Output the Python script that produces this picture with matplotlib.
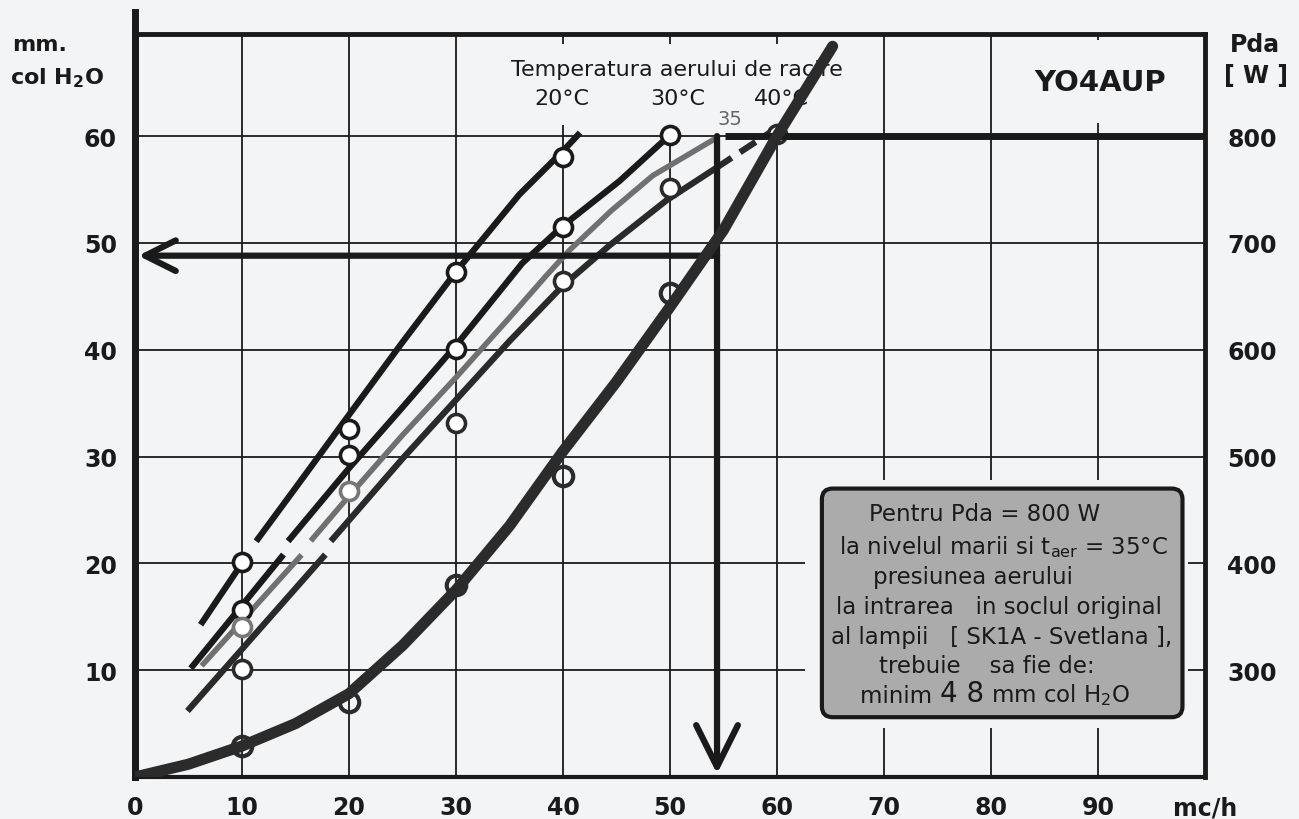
# pressure / power chart for the SK1A socket, YO4AUP
import matplotlib.pyplot as plt
from matplotlib.patches import FancyBboxPatch, Rectangle

plt.rcParams['font.family'] = ['DejaVu Sans']

# axes
FLOW_MAX = 100
PRESS_MAX = 69.55
PDA_AT_ZERO = 200      # right axis: Pda = 200 + 10 * mm col H2O
PDA_PER_MM = 10

FLOW_TICKS = [0, 10, 20, 30, 40, 50, 60, 70, 80, 90, 100]
FLOW_LABELS = ['0', '10', '20', '30', '40', '50', '60', '70', '80', '90', 'mc/h']
PRESS_TICKS = [10, 20, 30, 40, 50, 60]
PDA_TICKS = [300, 400, 500, 600, 700, 800]

# pressure curves (mm col H2O) per cooling air temperature, lower / upper pieces
T20_LOW_X = [6.3, 10.4]
T20_LOW_Y = [14.5, 20.6]
T20_UP_X = [11.5, 15.4, 20, 25, 30, 35.9, 40, 41.4]
T20_UP_Y = [22.3, 27.6, 33.9, 40.7, 47.3, 54.5, 58.6, 60.1]
T20_PTS_X = [10, 20, 30, 40]
T20_PTS_Y = [20.1, 32.6, 47.3, 58.0]

T30_LOW_X = [5.4, 13.7]
T30_LOW_Y = [10.4, 20.6]
T30_UP_X = [14.5, 20, 25, 30, 36.2, 40, 45.3, 50]
T30_UP_Y = [22.3, 28.9, 34.6, 40.4, 48.1, 51.6, 55.8, 60.1]
T30_PTS_X = [10, 20, 30, 40, 50]
T30_PTS_Y = [15.6, 30.1, 40.1, 51.5, 60.1]

T35_LOW_X = [6.4, 15.4]
T35_LOW_Y = [10.6, 20.6]
T35_UP_X = [16.6, 20, 25, 30, 35, 38.5, 40.6, 44.5, 48.4, 54.3]
T35_UP_Y = [22.3, 26.3, 32.0, 37.4, 43.0, 47.0, 49.3, 53.0, 56.3, 59.8]
T35_PTS_X = [10, 20]
T35_PTS_Y = [14.0, 26.8]

T40_LOW_X = [5.1, 17.6]
T40_LOW_Y = [6.4, 20.6]
T40_UP_X = [18.5, 25, 30, 35, 40, 44.4, 49.7, 54.3]
T40_UP_Y = [22.3, 29.8, 35.3, 40.8, 46.0, 49.8, 54.0, 57.0]
T40_DASH_X = [54.3, 59.6]
T40_DASH_Y = [57.0, 60.5]
T40_PTS_X = [10, 30, 40, 50, 60]
T40_PTS_Y = [10.1, 33.1, 46.4, 55.1, 60.2]

# dissipated power curve (W, right axis)
PDA_X = [0, 5, 10, 15, 20, 25, 30, 35, 40, 45, 50, 55, 60, 65.2]
PDA_W = [200, 212, 229, 250, 278, 323, 375, 435, 505, 570, 640, 712, 800, 884]
PDA_PTS_X = [10, 20, 30, 40, 50]
PDA_PTS_W = [229, 270, 380, 482, 653]

# reading for Pda = 800 W at 35 C
PDA_TARGET = 800
FLOW_READ = 54.4
PRESS_READ = 48.8

BOX_LINES = [
    'Pentru Pda = 800 W',
    r'la nivelul marii si t$_{\rm aer}$ = 35°C',
    'presiunea aerului',
    'la intrarea   in soclul original',
    'al lampii   [ SK1A - Svetlana ],',
    'trebuie    sa fie de:',
]
BOX_LINE_X = [79.4, 81.2, 78.3, 80.7, 81.0, 79.6]
BOX_LINE_Y = [24.7, 21.6, 18.8, 16.0, 13.2, 10.4]

TEMP_LABELS = ['20°C', '30°C', '40°C']
TEMP_LABEL_X = [39.9, 50.7, 60.4]

BG = '#f3f4f6'
INK = '#1a1a1a'

fig = plt.figure(figsize=(12.99, 8.2), dpi=100, facecolor=BG)
ax = fig.add_axes([0.1039, 0.0512, 0.8237, 0.9061], facecolor=BG)
ax.set_xlim(0, FLOW_MAX)
ax.set_ylim(0, PRESS_MAX)
ax.set_xticks(FLOW_TICKS)
ax.set_xticklabels(FLOW_LABELS)
ax.set_yticks(PRESS_TICKS)
ax.tick_params(length=0, labelsize=17, colors=INK)
ax.tick_params(axis='x', pad=13)
ax.tick_params(axis='y', pad=13)
for lab in ax.get_xticklabels() + ax.get_yticklabels():
    lab.set_fontweight('bold')
ax.grid(True, color=INK, lw=1.3)
ax.set_axisbelow(True)
ax.spines['left'].set_linewidth(5)
ax.spines['top'].set_linewidth(3.5)
ax.spines['right'].set_linewidth(3.5)
ax.spines['bottom'].set_linewidth(3)
for s in ax.spines.values():
    s.set_color(INK)
ax.axvline(0, 0, 1.03, color=INK, lw=5, clip_on=False)

# clear the grid round the note box and the temperature labels
ax.add_patch(Rectangle((62.6, 4.6), 35.8, 23.2, facecolor=BG, edgecolor='none', zorder=1))
ax.add_patch(Rectangle((35.6, 61.0), 30.0, 7.6, facecolor=BG, edgecolor='none', zorder=1))
ax.add_patch(FancyBboxPatch((64.5, 5.9), 33.1, 20.8, boxstyle='round,pad=0.3,rounding_size=1.0',
                            facecolor='#ababab', edgecolor=INK, lw=3, zorder=2))
for txt, x, y in zip(BOX_LINES, BOX_LINE_X, BOX_LINE_Y):
    ax.text(x, y, txt, fontsize=16.5, ha='center', va='center', color=INK, zorder=3)
t1 = ax.text(67.8, 6.6, 'minim ', fontsize=16.5, ha='left', va='bottom', color=INK, zorder=3)
t2 = ax.annotate('4 8', xy=(1, 0), xycoords=t1, fontsize=20, ha='left', va='bottom', color=INK, zorder=3)
ax.annotate(' mm col H$_2$O', xy=(1, 0), xycoords=t2, fontsize=16.5, ha='left', va='bottom',
            color=INK, zorder=3)

# labels inside the plot
ax.text(50.6, 66.3, 'Temperatura aerului de racire', fontsize=16, ha='center', va='center',
        color=INK, zorder=2)
for txt, x in zip(TEMP_LABELS, TEMP_LABEL_X):
    ax.text(x, 63.6, txt, fontsize=16, ha='center', va='center', color=INK, zorder=2)
ax.text(55.6, 61.6, '35', fontsize=14, ha='center', va='center', color='#666666', zorder=2)
ax.text(90.2, 65.1, 'YO4AUP', fontsize=21, fontweight='bold', ha='center', va='center',
        color=INK, zorder=2, bbox=dict(fc=BG, ec='none', pad=20))

# temperature curves
dark = dict(color=INK, lw=4.5, zorder=4)
ax.plot(T20_LOW_X, T20_LOW_Y, **dark)
ax.plot(T20_UP_X, T20_UP_Y, **dark)
ax.plot(T30_LOW_X, T30_LOW_Y, **dark)
ax.plot(T30_UP_X, T30_UP_Y, **dark)
ax.plot(T35_LOW_X, T35_LOW_Y, color='#707070', lw=4, zorder=3)
ax.plot(T35_UP_X, T35_UP_Y, color='#707070', lw=4, zorder=3)
ax.plot(T40_LOW_X, T40_LOW_Y, color='#2a2a2a', lw=4.5, zorder=4)
ax.plot(T40_UP_X, T40_UP_Y, color='#2a2a2a', lw=4.5, zorder=4)
ax.plot(T40_DASH_X, T40_DASH_Y, color='#2a2a2a', lw=4.5, ls=(0, (3, 1.6)), zorder=4)

mk = dict(ls='none', marker='o', ms=13, mfc='white', mew=2.6, zorder=5)
ax.plot(T20_PTS_X, T20_PTS_Y, mec=INK, **mk)
ax.plot(T30_PTS_X, T30_PTS_Y, mec=INK, **mk)
ax.plot(T35_PTS_X, T35_PTS_Y, mec='#777777', **mk)
ax.plot(T40_PTS_X, T40_PTS_Y, mec='#2a2a2a', **mk)

# reading arrows
press_at_target = (PDA_TARGET - PDA_AT_ZERO) / PDA_PER_MM
ax.annotate('', xy=(FLOW_READ, 0.3), xytext=(FLOW_READ, press_at_target),
            arrowprops=dict(arrowstyle='->', lw=4.5, color=INK, mutation_scale=75,
                            shrinkA=0, shrinkB=0), zorder=4)
ax.annotate('', xy=(0.3, PRESS_READ), xytext=(FLOW_READ, PRESS_READ),
            arrowprops=dict(arrowstyle='->', lw=4.5, color=INK, mutation_scale=55,
                            shrinkA=0, shrinkB=0), zorder=4)

# right axis: Pda
ax2 = ax.twinx()
ax2.set_ylim(PDA_AT_ZERO, PDA_AT_ZERO + PDA_PER_MM * PRESS_MAX)
ax2.set_yticks(PDA_TICKS)
ax2.tick_params(length=0, labelsize=17, colors=INK, pad=16)
for lab in ax2.get_yticklabels():
    lab.set_fontweight('bold')
for s in ax2.spines.values():
    s.set_visible(False)
ax2.hlines(PDA_TARGET, FLOW_READ + 0.7, FLOW_MAX, color=INK, lw=5, zorder=3)
ax2.plot(PDA_X, PDA_W, color='#2b2b2b', lw=8, solid_capstyle='round', zorder=4)
ax2.plot(PDA_PTS_X, PDA_PTS_W, ls='none', marker='o', ms=14, mfc='none', mec='#2b2b2b',
         mew=3, zorder=5)

# axis titles
fig.text(0.009, 0.945, 'mm.', fontsize=16, fontweight='bold', ha='left', va='center', color=INK)
fig.text(0.008, 0.905, r'col H$_\mathbf{2}$O', fontsize=16, fontweight='bold', ha='left',
         va='center', color=INK)
fig.text(0.966, 0.945, 'Pda', fontsize=17, fontweight='bold', ha='center', va='center', color=INK)
fig.text(0.967, 0.907, '[ W ]', fontsize=17, fontweight='bold', ha='center', va='center', color=INK)

fig.savefig('out.png', dpi=100, facecolor=BG)
